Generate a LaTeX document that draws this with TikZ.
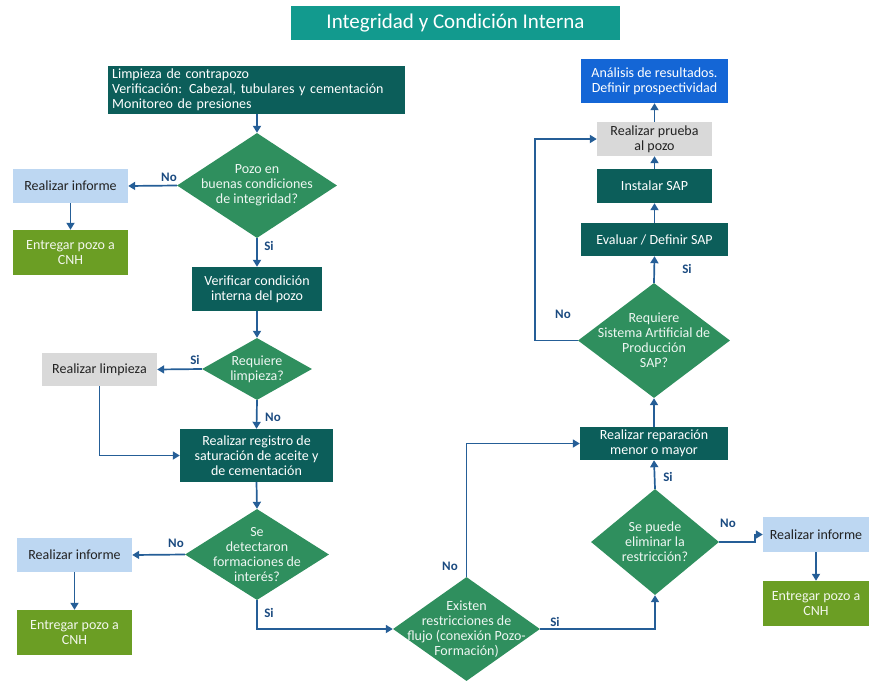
\documentclass[tikz,border=0pt]{standalone}
\usepackage{fontspec}
\setmainfont{Carlito}
\usetikzlibrary{shapes.geometric,arrows.meta}
\definecolor{titleteal}{HTML}{129A8E}
\definecolor{darkbox}{HTML}{0C5E5A}
\definecolor{diagreen}{HTML}{2F8F5E}
\definecolor{lightblue}{HTML}{BDD7F2}
\definecolor{olive}{HTML}{6B9E24}
\definecolor{lightgrey}{HTML}{D9D9D9}
\definecolor{bluebox}{HTML}{1466D6}
\definecolor{arrowblue}{HTML}{255E97}
\definecolor{lblblue}{HTML}{1A4A80}
\definecolor{darktext}{HTML}{222222}
\tikzset{
  base/.style={rectangle, inner sep=2pt, align=center, font=\fontsize{14}{15}\selectfont},
  darkstep/.style={base, fill=darkbox, text=white},
  infobox/.style={base, fill=lightblue, text=darktext},
  cnhbox/.style={base, fill=olive, text=white!92!olive},
  greybox/.style={base, fill=lightgrey, text=darktext},
  bluestep/.style={base, fill=bluebox, text=white},
  dia/.style={diamond, fill=diagreen, inner sep=0pt},
  diatext/.style={align=center, inner sep=0pt, text=white!92!diagreen, font=\fontsize{14}{15}\selectfont},
  conn/.style={draw=arrowblue, line width=1.7pt, -{Triangle[length=7pt,width=8pt]}},
  lbl/.style={font=\bfseries\fontsize{13}{14}\selectfont, text=lblblue, inner sep=0pt}
}
\begin{document}
\begin{tikzpicture}[x=1pt,y=-1pt]
\useasboundingbox (0,0) rectangle (869,682);
% title
\node[base, fill=titleteal, text=white, minimum width=329, minimum height=34, font=\fontsize{21}{24}\selectfont] (title) at (455.5,23) {Integridad y Condición Interna};
% left column
\node[darkstep, minimum width=297, minimum height=48, align=left, anchor=west, text width=289] (top) at (108,90) {Limpieza de contrapozo\\Verificación: Cabezal, tubulares y cementación\\Monitoreo de presiones};
\node[dia, minimum width=160, minimum height=105] (d1) at (257,185.5) {};
\node[diatext] (t1) at (d1) {Pozo en\\buenas condiciones\\de integridad?};
\node[infobox, minimum width=115, minimum height=34] (inf1) at (70.5,186) {Realizar informe};
\node[cnhbox, minimum width=115, minimum height=45] (ent1) at (70.5,252.5) {Entregar pozo a\\CNH};
\node[darkstep, minimum width=130, minimum height=44] (ver) at (257,289) {Verificar condición\\interna del pozo};
\node[dia, minimum width=110, minimum height=62] (d2) at (257,369) {};
\node[diatext] (t2) at (d2) {Requiere\\limpieza?};
\node[greybox, minimum width=115, minimum height=33] (limp) at (99.5,369.5) {Realizar limpieza};
\node[darkstep, minimum width=153, minimum height=53] (reg) at (256.5,455.5) {Realizar registro de\\saturación de aceite y\\de cementación};
\node[dia, minimum width=144, minimum height=91] (d3) at (257,554.5) {};
\node[diatext] (t3) at (d3) {Se\\detectaron\\formaciones de\\interés?};
\node[infobox, minimum width=115, minimum height=34] (inf2) at (74.5,555) {Realizar informe};
\node[cnhbox, minimum width=115, minimum height=45] (ent2) at (74.5,632.5) {Entregar pozo a\\CNH};
% bottom / right part
\node[dia, minimum width=147, minimum height=104] (d4) at (466.5,629) {};
\node[diatext] (t4) at (d4) {Existen\\restricciones de\\flujo (conexión Pozo-\\Formación)};
\node[dia, minimum width=128, minimum height=106] (d5) at (655,542) {};
\node[diatext] (t5) at (d5) {Se puede\\eliminar la\\restricción?};
\node[darkstep, minimum width=148, minimum height=33] (rep) at (654,443.5) {Realizar reparación\\menor o mayor};
\node[infobox, minimum width=106, minimum height=35] (inf3) at (816,534.5) {Realizar informe};
\node[cnhbox, minimum width=106, minimum height=45] (ent3) at (816,603.5) {Entregar pozo a\\CNH};
\node[dia, minimum width=152, minimum height=115] (d6) at (654,340.5) {};
\node[diatext] (t6) at (d6) {Requiere\\Sistema Artificial de\\Producción\\SAP?};
\node[darkstep, minimum width=147, minimum height=33] (eval) at (654.5,239.5) {Evaluar / Definir SAP};
\node[darkstep, minimum width=115, minimum height=34] (inst) at (654.5,186) {Instalar SAP};
\node[greybox, minimum width=115, minimum height=34] (prueba) at (654.5,139) {Realizar prueba\\al pozo};
\node[bluestep, minimum width=147, minimum height=44] (anal) at (654.5,81) {Análisis de resultados.\\Definir prospectividad};
% connectors
\draw[conn] (top.south -| d1.north) -- (d1.north);
\draw[conn] (d1.west) -- (inf1.east);
\draw[conn] (inf1.south) -- (ent1.north);
\draw[conn] (d1.south) -- (ver.north);
\draw[conn] (ver.south) -- (d2.north);
\draw[conn] (d2.west) -- (limp.east);
\draw[conn] (limp.south) |- (reg.west);
\draw[conn] (d2.south) -- (reg.north);
\draw[conn] (reg.south) -- (d3.north);
\draw[conn] (d3.west) -- (inf2.east);
\draw[conn] (inf2.south) -- (ent2.north);
\draw[conn] (d3.south) |- (d4.west);
\draw[conn] (d4.north) |- (rep.west);
\draw[conn] (d4.east) -| (d5.south);
\draw[conn] (d5.north) -- (rep.south);
\draw[conn] (d5.east) -- ++(36,0) |- (inf3.west);
\draw[conn] (inf3.south) -- (ent3.north);
\draw[conn] (rep.north) -- (d6.south);
\draw[conn] (d6.north) -- (eval.south);
\draw[conn] (eval.north) -- (inst.south);
\draw[conn] (inst.north) -- (prueba.south);
\draw[conn] (prueba.north) -- (anal.south);
\draw[conn] (d6.west) -- ++(-43,0) |- (prueba.west);
% labels
\node[lbl] (l1) at (169,177) {No};
\node[lbl] (l2) at (269,246) {Si};
\node[lbl] (l3) at (195,360) {Si};
\node[lbl] (l4) at (273,417) {No};
\node[lbl] (l5) at (176,543) {No};
\node[lbl] (l6) at (269,613) {Si};
\node[lbl] (l7) at (450,566) {No};
\node[lbl] (l8) at (555,622) {Si};
\node[lbl] (l9) at (668,477) {Si};
\node[lbl] (l10) at (728,523) {No};
\node[lbl] (l11) at (687,269) {Si};
\node[lbl] (l12) at (563,314) {No};
\end{tikzpicture}
\end{document}
